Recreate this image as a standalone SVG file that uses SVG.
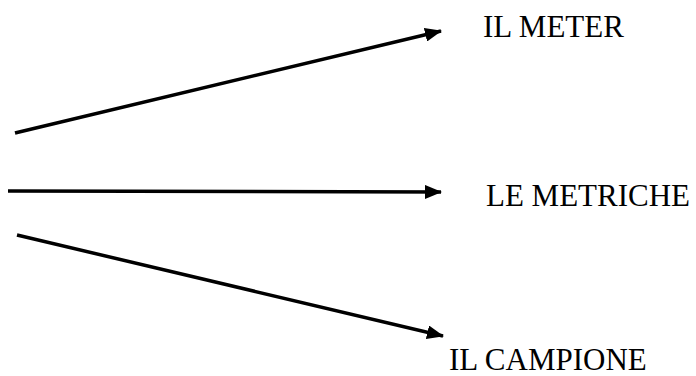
<svg xmlns="http://www.w3.org/2000/svg" width="696" height="376" viewBox="0 0 696 376">
  <style>
    .edge { stroke: #000; stroke-width: 3.5; fill: none; marker-end: url(#head); }
    .label { font-family: "Liberation Serif", "Times New Roman", serif; font-size: 31px; fill: #000; }
  </style>
  <defs>
    <marker id="head" markerUnits="userSpaceOnUse" markerWidth="18" markerHeight="14" refX="16" refY="7" orient="auto">
      <path d="M0,0 L17,7 L0,14 Z" fill="#000"/>
    </marker>
  </defs>
  <rect width="696" height="376" fill="#fff"/>
  <g id="connectors">
    <line class="edge" x1="15" y1="133" x2="441" y2="31"/>
    <line class="edge" x1="8" y1="191" x2="441" y2="192"/>
    <line class="edge" x1="17" y1="235" x2="443" y2="336"/>
  </g>
  <g id="node-meter">
    <text class="label" x="483" y="37">IL METER</text>
  </g>
  <g id="node-metriche">
    <text class="label" x="486" y="206">LE METRICHE</text>
  </g>
  <g id="node-campione">
    <text class="label" x="449" y="370">IL CAMPIONE</text>
  </g>
</svg>
